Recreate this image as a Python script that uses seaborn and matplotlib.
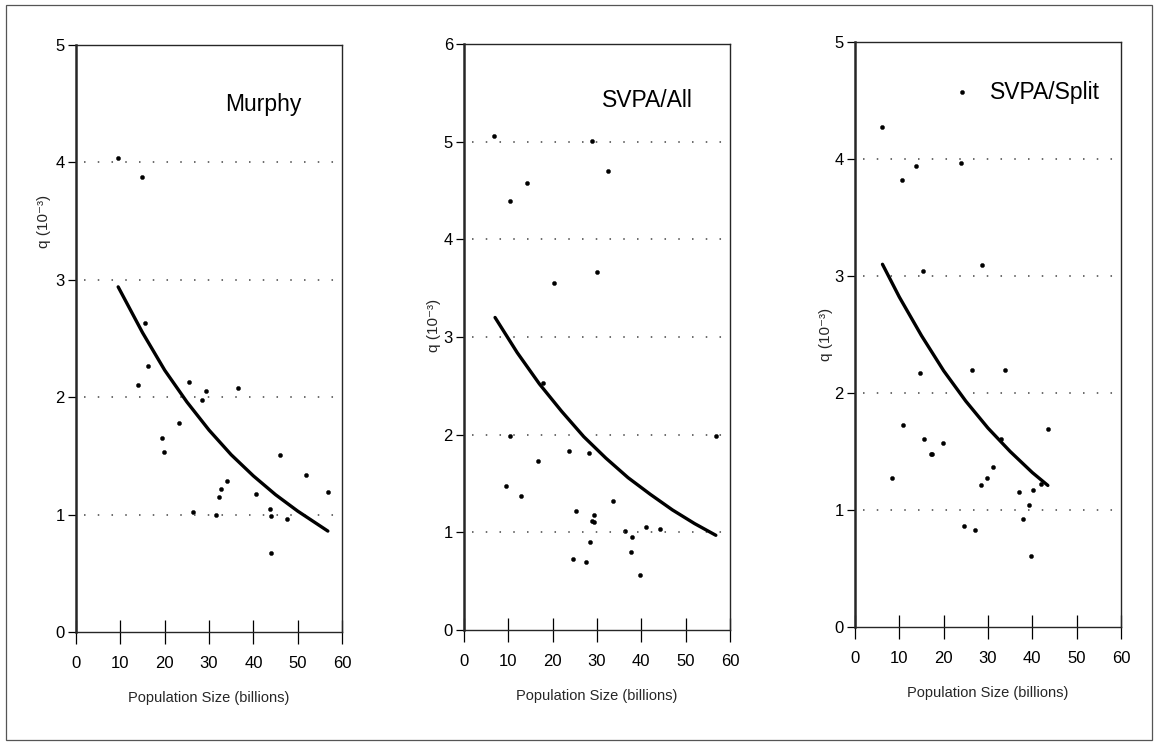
import matplotlib
matplotlib.use("Agg")
import matplotlib.pyplot as plt
import seaborn as sns
from matplotlib.patches import Rectangle

# Murphy panel
murphy_x = [9.5, 14.8, 15.5, 13.9, 16.2, 19.4, 19.9, 23.2, 25.4, 26.3, 28.4, 29.3, 31.6,
            32.3, 32.8, 34.0, 36.5, 40.5, 43.8, 43.9, 43.9, 46.0, 47.6, 51.8, 56.9]
murphy_q = [4.04, 3.88, 2.63, 2.10, 2.27, 1.65, 1.53, 1.78, 2.13, 1.02, 1.98, 2.05, 1.00,
            1.15, 1.22, 1.29, 2.08, 1.18, 1.05, 0.99, 0.67, 1.51, 0.96, 1.34, 1.19]
murphy_fit_x = [9.5, 15, 20, 25, 30, 35, 40, 45, 50, 56.8]
murphy_fit_q = [2.94, 2.55, 2.23, 1.96, 1.72, 1.51, 1.33, 1.17, 1.03, 0.86]

# SVPA/All panel
svpa_all_x = [6.8, 10.4, 14.2, 20.4, 28.9, 29.9, 32.5, 17.9, 10.3, 9.5, 12.8, 16.7, 23.7,
              28.2, 24.5, 25.2, 27.6, 28.5, 28.9, 29.3, 29.3, 33.5, 36.3, 37.9, 37.7,
              39.6, 41.1, 44.1, 56.9]
svpa_all_q = [5.06, 4.39, 4.58, 3.55, 5.01, 3.67, 4.70, 2.53, 1.99, 1.47, 1.37, 1.73, 1.83,
              1.81, 0.73, 1.22, 0.70, 0.90, 1.12, 1.18, 1.11, 1.32, 1.01, 0.95, 0.80,
              0.56, 1.05, 1.03, 1.99]
svpa_all_fit_x = [7.0, 12, 17, 22, 27, 32, 37, 42, 47, 52, 56.8]
svpa_all_fit_q = [3.20, 2.84, 2.52, 2.24, 1.98, 1.76, 1.56, 1.39, 1.23, 1.09, 0.97]

# SVPA/Split panel
svpa_split_x = [6.2, 10.5, 13.8, 24.1, 23.8, 15.4, 28.6, 14.7, 10.9, 8.4, 15.6, 17.1, 17.4,
                19.8, 26.5, 33.8, 43.5, 32.9, 31.1, 29.8, 28.5, 36.9, 40.1, 41.9, 39.3,
                37.9, 24.5, 27.1, 39.6]
svpa_split_q = [4.27, 3.82, 3.94, 4.57, 3.97, 3.04, 3.09, 2.17, 1.73, 1.27, 1.61, 1.48, 1.48,
                1.57, 2.20, 2.20, 1.69, 1.61, 1.37, 1.27, 1.21, 1.15, 1.17, 1.22, 1.04,
                0.92, 0.86, 0.83, 0.61]
svpa_split_fit_x = [6.2, 10, 15, 20, 25, 30, 35, 40, 43.5]
svpa_split_fit_q = [3.10, 2.82, 2.49, 2.19, 1.93, 1.70, 1.50, 1.32, 1.21]

panel_names = ["Murphy", "SVPA/All", "SVPA/Split"]
x_ticks = [0, 10, 20, 30, 40, 50, 60]

sns.set_style("ticks")
plt.rcParams['font.family'] = ['Liberation Sans', 'DejaVu Sans']

fig = plt.figure(figsize=(11.54, 7.42), dpi=100)
fig.patches.append(Rectangle((0.005, 0.003), 0.993, 0.990, transform=fig.transFigure,
                             fill=False, edgecolor="#555555", linewidth=0.9))

boxes = [[0.0659, 0.1482, 0.2305, 0.7911],
         [0.4021, 0.1509, 0.2305, 0.7898],
         [0.7409, 0.1550, 0.2305, 0.7884]]
panels = [(murphy_x, murphy_q, murphy_fit_x, murphy_fit_q, 5),
          (svpa_all_x, svpa_all_q, svpa_all_fit_x, svpa_all_fit_q, 6),
          (svpa_split_x, svpa_split_q, svpa_split_fit_x, svpa_split_fit_q, 5)]
title_pos = [(0.703, 0.898), (0.688, 0.904), (0.714, 0.913)]
ylabel_pos = [(-0.095, 0.70), (-0.088, 0.52), (-0.084, 0.50)]

for i, (px, pq, fx, fq, ymax) in enumerate(panels):
    ax = fig.add_axes(boxes[i])
    for yv in range(1, ymax):
        ax.axhline(yv, xmin=0.03, xmax=0.97, color="#444444", lw=1.1,
                   linestyle=(0, (1, 8)))
    sns.scatterplot(x=px, y=pq, ax=ax, color="black", marker="o", s=9,
                    edgecolor="black", linewidth=0.3)
    sns.lineplot(x=fx, y=fq, ax=ax, color="black", lw=2.4)
    ax.set_xlim(0, 60)
    ax.set_ylim(0, ymax)
    ax.set_xticks(x_ticks)
    ax.set_yticks(range(0, ymax + 1))
    ax.tick_params(axis="x", direction="inout", length=17, width=0.9, pad=9,
                   labelsize=12, colors="black")
    ax.tick_params(axis="y", direction="out", length=6, width=0.9, pad=2,
                   labelsize=12, colors="black")
    for side in ["top", "right", "bottom"]:
        ax.spines[side].set_linewidth(1.0)
    ax.spines["left"].set_linewidth(1.8)
    ax.set_xlabel("Population Size (billions)", fontsize=10.5, labelpad=14)
    ax.set_ylabel("q (10\u207b\u00b3)", fontsize=11)
    ax.yaxis.set_label_coords(*ylabel_pos[i])
    ax.text(title_pos[i][0], title_pos[i][1], panel_names[i], transform=ax.transAxes,
            ha="center", va="center", fontsize=16.5, color="black")

fig.savefig("out.png", dpi=100)
